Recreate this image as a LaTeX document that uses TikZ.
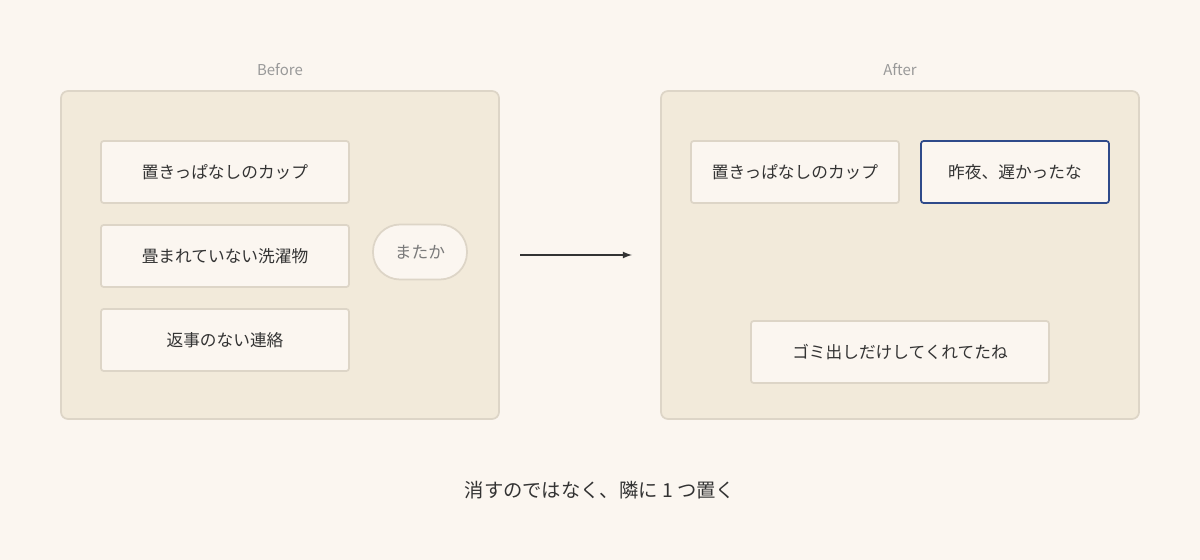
\documentclass[tikz,border=0pt]{standalone}
\usepackage{fontspec}
\setmainfont{Noto Sans CJK JP}
\usetikzlibrary{positioning}
\definecolor{bgcol}{HTML}{FBF6F0}
\definecolor{panelcol}{HTML}{F2EADA}
\definecolor{linecol}{HTML}{DDD5C7}
\definecolor{txtcol}{HTML}{333333}
\definecolor{graycol}{HTML}{999999}
\definecolor{bluecol}{HTML}{2F4A8A}
\tikzset{
  panel/.style={draw=linecol, line width=1pt, fill=panelcol, rounded corners=4pt},
  note/.style={draw=linecol, line width=1pt, fill=bgcol, rounded corners=1.5pt, font=\fontsize{9.5}{11}\selectfont, text=txtcol},
  head/.style={font=\fontsize{8.5}{10}\selectfont, text=graycol}
}
\begin{document}
\begin{tikzpicture}[x=0.02cm,y=-0.02cm]
\fill[bgcol] (0,0) rectangle (1200,560);
\useasboundingbox (0,0) rectangle (1200,560);
% before
\node[head] (beforelbl) at (280,70) {Before};
\draw[panel] (61,91) rectangle (499,419);
\node[note, minimum width=248*0.02cm, minimum height=62*0.02cm] (cup) at (225,172) {置きっぱなしのカップ};
\node[note, minimum width=248*0.02cm, minimum height=62*0.02cm] (laundry) at (225,256) {畳まれていない洗濯物};
\node[note, minimum width=248*0.02cm, minimum height=62*0.02cm] (reply) at (225,340) {返事のない連絡};
\node[note, rounded corners=27*0.02cm, minimum width=94*0.02cm, minimum height=55*0.02cm, text=graycol!80!black] (again) at (420,252) {またか};
% arrow
\coordinate (arrs) at (520,255);
\coordinate (arre) at (632,255);
\draw[-latex, line width=0.8pt, txtcol] (arrs) -- (arre);
% after
\node[head] (afterlbl) at (900,70) {After};
\draw[panel] (661,91) rectangle (1139,419);
\node[note, minimum width=208*0.02cm, minimum height=62*0.02cm] (cup2) at (795,172) {置きっぱなしのカップ};
\node[note, draw=bluecol, minimum width=188*0.02cm, minimum height=62*0.02cm] (late) at (1015,172) {昨夜、遅かったな};
\node[note, minimum width=298*0.02cm, minimum height=62*0.02cm] (trash) at (900,352) {ゴミ出しだけしてくれてたね};
% caption
\node[font=\fontsize{11}{13}\selectfont, text=txtcol] (caption) at (600,490) {消すのではなく、隣に 1 つ置く};
\end{tikzpicture}
\end{document}
